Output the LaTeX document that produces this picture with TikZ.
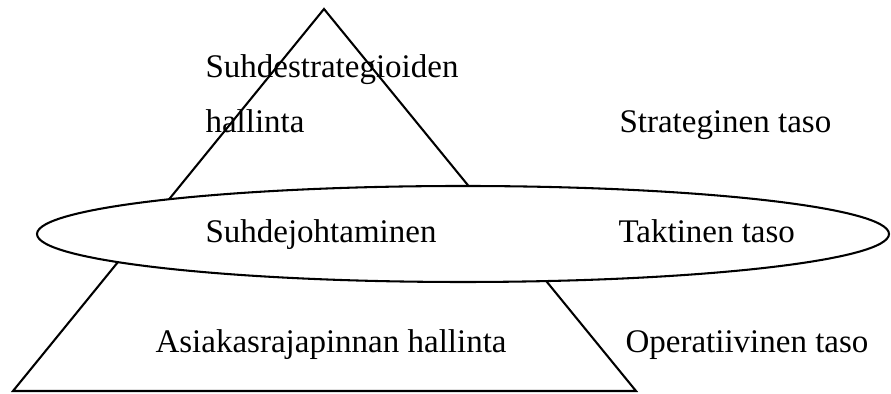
\documentclass[tikz,border=0pt]{standalone}
\usepackage{fontspec}
\setmainfont{Liberation Serif}
\usetikzlibrary{positioning}

\begin{document}
\begin{tikzpicture}[
  x=0.3636pt, y=-0.3636pt,
  font=\fontsize{12}{14}\selectfont,
  lbl/.style={anchor=base west, inner sep=0pt},
  edge/.style={line width=0.75pt},
]
\useasboundingbox (0,0) rectangle (891,394);
\coordinate (apex) at (324,9);
\coordinate (baseL) at (13,391);
\coordinate (baseR) at (636,391);
\draw[edge] (apex) -- (baseR) -- (baseL) -- cycle;
\draw[edge, fill=white] (463,234) ellipse [x radius=426, y radius=48];
\node[lbl] (strat1) at (205,78) {Suhdestrategioiden};
\node[lbl] (strat2) at (205,133) {hallinta};
\node[lbl] (stratlvl) at (619,133) {Strateginen taso};
\node[lbl] (takt) at (205,243) {Suhdejohtaminen};
\node[lbl] (taktlvl) at (618,243) {Taktinen taso};
\node[lbl] (oper) at (155,353) {Asiakasrajapinnan hallinta};
\node[lbl] (operlvl) at (625,353) {Operatiivinen taso};
\end{tikzpicture}
\end{document}
